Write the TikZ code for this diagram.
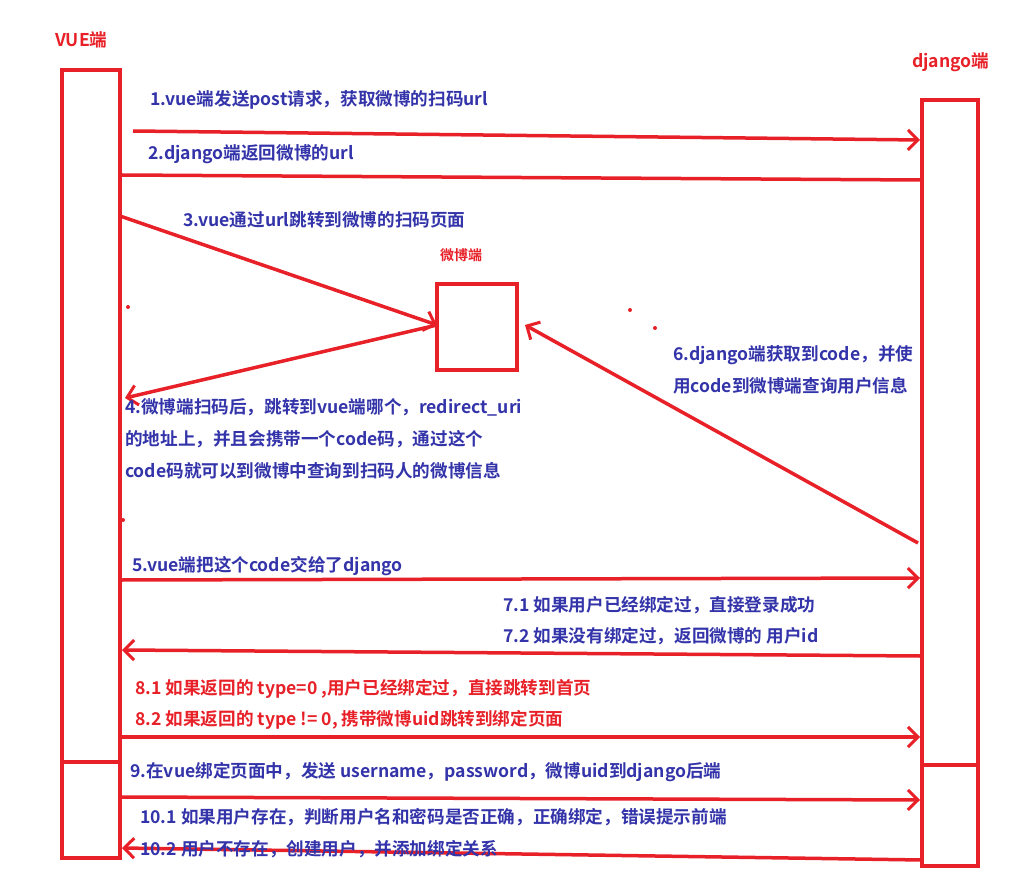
\documentclass[tikz,border=0pt]{standalone}
\usepackage{fontspec}
\setmainfont{Noto Sans CJK SC}[BoldFont={Noto Sans CJK SC Bold}]
\usetikzlibrary{arrows.meta}
\definecolor{rd}{RGB}{232,32,40}
\definecolor{bl}{RGB}{52,52,170}
\begin{document}
\begin{tikzpicture}[x=1pt,y=-1pt,
 ln/.style={rd,line width=3.5pt},
 ar/.style={ln,-{Straight Barb[length=10pt,width=20pt,line width=3pt]}},
 box/.style={rd,line width=3.5pt},
 bt/.style={bl,font=\bfseries\fontsize{17.6}{32}\selectfont,anchor=west,align=left,inner sep=0pt},
 rt/.style={rd,font=\bfseries\fontsize{17.6}{32}\selectfont,anchor=west,align=left,inner sep=0pt}]
\useasboundingbox (0,0) rectangle (1034,893);
\fill[white] (0,0) rectangle (1034,893);
\node[rt] (lv) at (55,40) {VUE端};
\node[rt] (ld) at (912,62) {django端};
\draw[box] (62,70) rectangle (120,762);
\draw[box] (62,762) rectangle (120,858);
\draw[box] (922,100) rectangle (978,765);
\draw[box] (922,765) rectangle (978,866);
\draw[box] (437,284) rectangle (517,370);
\node[rt,font=\bfseries\fontsize{14}{16}\selectfont] (lw) at (440,255) {微博端};
\coordinate (wb) at (437,325);
\coordinate (wr) at (525,325);
\draw[ar] (133,131) -- (920,140);
\draw[ln] (920,180) -- (122,175);
\draw[ar] (120,216) -- (wb);
\draw[ar] (wb) -- (125,398);
\draw[ar] (918,543) -- (wr);
\draw[ar] (122,580) -- (920,578);
\draw[ar] (920,656) -- (122,650);
\draw[ar] (118,737) -- (920,737);
\draw[ar] (122,797) -- (920,800);
\draw[ar] (922,860) -- (122,848);
\foreach \p in {(128,307),(123,520),(630,310),(655,328)} \fill[rd] \p circle (2);
\node[bt] at (150,100) {1.vue端发送post请求，获取微博的扫码url};
\node[bt] at (148,154) {2.django端返回微博的url};
\node[bt] at (183,220) {3.vue通过url跳转到微博的扫码页面};
\node[bt,anchor=north west] at (125,398) {4.微博端扫码后，跳转到vue端哪个，redirect\_uri\\的地址上，并且会携带一个code码，通过这个\\code码就可以到微博中查询到扫码人的微博信息};
\node[bt,anchor=north west] at (673,345) {6.django端获取到code，并使\\用code到微博端查询用户信息};
\node[bt] at (132,566) {5.vue端把这个code交给了django};
\node[bt] at (503,605) {7.1 如果用户已经绑定过，直接登录成功};
\node[bt] at (503,636) {7.2 如果没有绑定过，返回微博的 用户id};
\node[rt] at (135,689) {8.1 如果返回的 type=0 ,用户已经绑定过，直接跳转到首页};
\node[rt] at (135,720) {8.2 如果返回的 type != 0, 携带微博uid跳转到绑定页面};
\node[bt] at (130,772) {9.在vue绑定页面中，发送 username，password，微博uid到django后端};
\node[bt] at (140,817) {10.1 如果用户存在，判断用户名和密码是否正确，正确绑定，错误提示前端};
\node[bt] at (140,849) {10.2 用户不存在，创建用户，并添加绑定关系};
\end{tikzpicture}
\end{document}
